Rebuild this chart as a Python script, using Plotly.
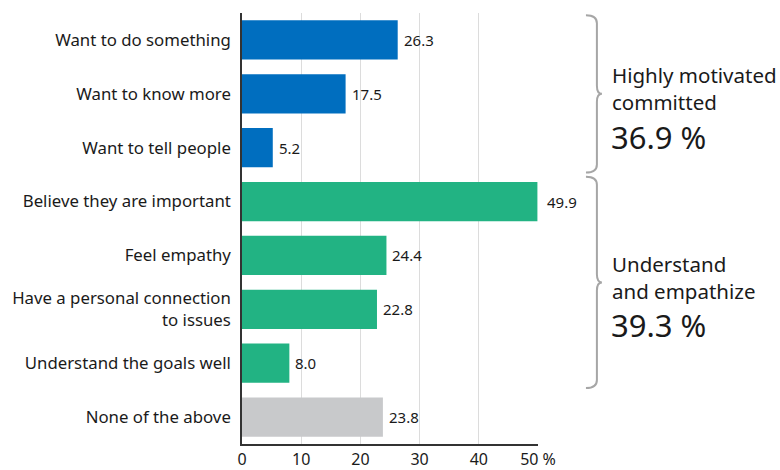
import plotly.graph_objects as go

# Survey responses (percent), top to bottom
categories = [
    "Want to do something",
    "Want to know more",
    "Want to tell people",
    "Believe they are important",
    "Feel empathy",
    "Have a personal connection<br>to issues",
    "Understand the goals well",
    "None of the above",
]
values = [26.3, 17.5, 5.2, 49.9, 24.4, 22.8, 8.0, 23.8]
groups = ["motivated", "motivated", "motivated",
          "empathize", "empathize", "empathize", "empathize",
          "none"]

x_ticks = [0, 10, 20, 30, 40, 50]
x_tick_labels = ["0", "10", "20", "30", "40", "50 %"]

group_labels = {
    "motivated": ("Highly motivated<br>committed", "36.9 %"),
    "empathize": ("Understand<br>and empathize", "39.3 %"),
}

palette = {"motivated": "#006EBF", "empathize": "#22B383", "none": "#C8C9CB"}
FONT = "Noto Sans"
TEXT = "#1a1a1a"

pos = list(range(len(categories)))

fig = go.Figure()
fig.add_trace(go.Bar(
    x=values,
    y=pos,
    orientation="h",
    marker=dict(color=[palette[g] for g in groups], line=dict(width=0)),
    width=0.73,
    hoverinfo="skip",
))

# value labels at the end of each bar
for v, p in zip(values, pos):
    fig.add_annotation(
        x=v, y=p, xref="x", yref="y",
        text=f"{v:.1f}", showarrow=False,
        xanchor="left", yanchor="middle", xshift=4 if v < 45 else 8,
        font=dict(family=FONT, size=15, color=TEXT),
    )

# curly braces grouping the categories
def brace(y0, y1, xt=1.162, xs=1.199, xp=1.216, r=0.15):
    ym = (y0 + y1) / 2
    return (f"M {xt},{y0} Q {xs},{y0} {xs},{y0 + r} "
            f"L {xs},{ym - r} Q {xs},{ym} {xp},{ym} "
            f"Q {xs},{ym} {xs},{ym + r} "
            f"L {xs},{y1 - r} Q {xs},{y1} {xt},{y1}")

group_spans = {}
for g, p in zip(groups, pos):
    if g in group_labels:
        lo, hi = group_spans.get(g, (p, p))
        group_spans[g] = (min(lo, p), max(hi, p))

for g, (lo, hi) in group_spans.items():
    y0, y1 = lo - 0.46, hi + 0.46
    fig.add_shape(
        type="path", path=brace(y0, y1), xref="paper", yref="y",
        line=dict(color="#A6A6A6", width=2),
    )
    title, pct = group_labels[g]
    ym = (y0 + y1) / 2
    fig.add_annotation(
        x=1.244, y=ym, xref="paper", yref="y", text=title, showarrow=False,
        xanchor="left", yanchor="middle", align="left", yshift=5,
        font=dict(family=FONT, size=20.5, color=TEXT),
    )
    fig.add_annotation(
        x=1.241, y=ym, xref="paper", yref="y", text=pct, showarrow=False,
        xanchor="left", yanchor="middle", align="left", yshift=-43,
        font=dict(family=FONT, size=31, color=TEXT),
    )

fig.update_layout(
    width=780, height=470,
    margin=dict(l=242, r=242, t=13, b=26),
    paper_bgcolor="white", plot_bgcolor="white",
    showlegend=False,
    bargap=0.27,
    font=dict(family=FONT, size=15, color=TEXT),
    xaxis=dict(
        range=[0, 50], tickvals=x_ticks, ticktext=x_tick_labels,
        showgrid=True, gridcolor="#DCDCDC", gridwidth=1,
        showline=True, linecolor="#333333", linewidth=1.5,
        zeroline=False, ticks="", tickfont=dict(size=16, color=TEXT),
        automargin=False, fixedrange=True,
    ),
    yaxis=dict(
        range=[len(categories) - 0.5, -0.5],
        tickvals=pos, ticktext=categories,
        showgrid=False, zeroline=False,
        showline=True, linecolor="#333333", linewidth=1.5,
        ticks="", ticklabelstandoff=6,
        tickfont=dict(size=16.8, color=TEXT),
        automargin=False, fixedrange=True,
    ),
)

fig.write_html("out.html")
